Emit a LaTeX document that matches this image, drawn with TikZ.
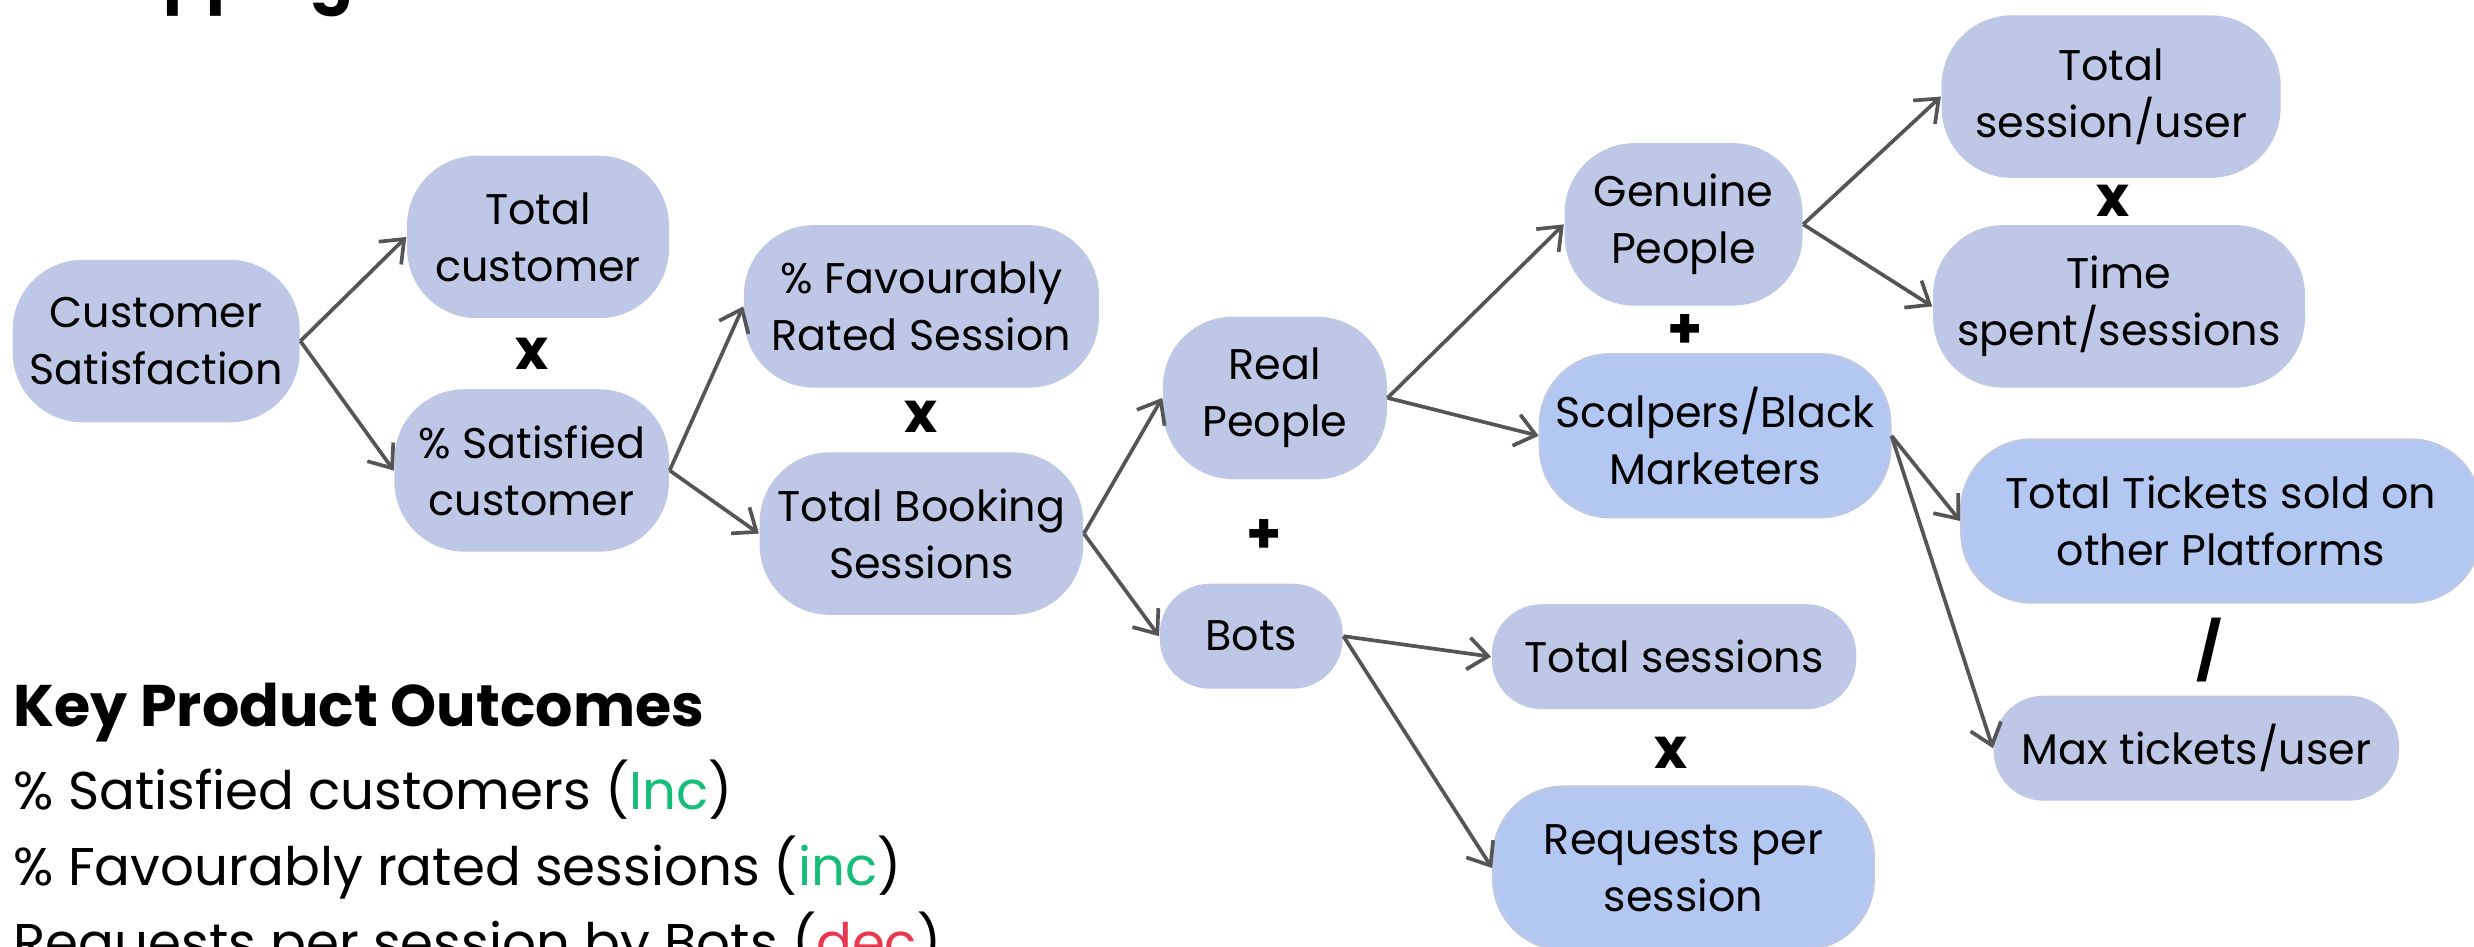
\documentclass[tikz,border=0pt]{standalone}
\usepackage{fontspec}
\setmainfont{Poppins}
\usepackage{xcolor}
\usepackage{tikz}
\usetikzlibrary{arrows.meta}
\definecolor{lila}{RGB}{190,200,230}
\definecolor{blauw}{RGB}{179,199,243}
\definecolor{grijs}{RGB}{85,85,85}
\definecolor{groen}{RGB}{20,190,120}
\definecolor{rood}{RGB}{232,56,80}

\begin{document}
\begin{tikzpicture}[
    font=\fontsize{12.2}{16.2}\selectfont,
    blok/.style={rounded corners=0.7cm, fill=lila, align=center, inner sep=0pt, minimum height=1.625cm},
    blauwblok/.style={blok, fill=blauw, draw=lila, line width=0.8pt},
    laag/.style={blok, rounded corners=0.5cm, minimum height=1.05cm},
    op/.style={font=\fontsize{16}{16}\selectfont\bfseries},
    lijst/.style={anchor=base west, inner sep=0pt, font=\fontsize{15.1}{20}\selectfont},
    pijl/.style={draw=grijs, line width=1.05pt, -{Straight Barb[length=2mm,width=3.2mm]}}]
  \useasboundingbox (0,0) rectangle (24.74,9.47);
  % titel (valt grotendeels buiten beeld)
  \node[anchor=base west, inner sep=0pt, font=\fontsize{18}{18}\selectfont\bfseries] (titel) at (0.62,9.47) {Mapping};
  % eerste niveau
  \node[blok, minimum width=2.87cm] (cs) at (1.562,6.059) {Customer\\Satisfaction};
  \node[blok, minimum width=2.62cm] (tc) at (5.380,7.100) {Total\\customer};
  \node[blok, minimum width=2.745cm] (sc) at (5.317,4.765) {\% Satisfied\\customer};
  \node[op] (x1) at (5.317,5.932) {x};
  % sessies
  \node[blok, minimum width=3.55cm] (frs) at (9.214,6.406) {\% Favourably\\Rated Session};
  \node[blok, minimum width=3.235cm] (tbs) at (9.214,4.134) {Total Booking\\Sessions};
  \node[op] (x2) at (9.214,5.301) {x};
  % mensen en bots
  \node[blok, minimum width=2.24cm] (rp) at (12.749,5.491) {Real\\People};
  \node[laag, minimum width=1.83cm] (bots) at (12.512,3.108) {Bots};
  \node[op] (p1) at (12.638,4.102) {+};
  \node[blok, minimum width=2.38cm] (gp) at (16.835,7.226) {Genuine\\People};
  \node[blauwblok, minimum width=3.50cm] (sbm) at (17.151,5.112) {Scalpers/Black\\Marketers};
  \node[op] (p2) at (16.851,6.153) {+};
  % rechterkolom
  \node[blok, minimum width=3.39cm] (tsu) at (21.111,8.504) {Total\\session/user};
  \node[blok, minimum width=3.72cm] (tss) at (21.190,6.406) {Time\\spent/sessions};
  \node[op] (x3) at (21.127,7.463) {x};
  \node[blauwblok, minimum width=5.19cm] (tts) at (22.21,4.26) {Total Tickets sold on\\other Platforms};
  \node[laag, minimum width=4.055cm] (mtu) at (21.963,1.988) {Max tickets/user};
  \node[op] (sl) at (22.089,2.966) {/};
  \node[laag, minimum width=3.645cm] (ts) at (16.740,2.903) {Total sessions};
  \node[blauwblok, minimum width=3.80cm] (rps) at (16.835,0.789) {Requests per\\session};
  \node[op] (x4) at (16.709,1.941) {x};
  % pijlen
  \draw[pijl] (cs.east) -- (tc.west);
  \draw[pijl] (cs.east) -- (sc.west);
  \draw[pijl] (sc.east) -- (frs.west);
  \draw[pijl] (sc.east) -- (tbs.west);
  \draw[pijl] (tbs.east) -- (rp.west);
  \draw[pijl] (tbs.east) -- (bots.west);
  \draw[pijl] (rp.east) -- (gp.west);
  \draw[pijl] (rp.east) -- (sbm.west);
  \draw[pijl] (gp.east) -- (tsu.west);
  \draw[pijl] (gp.east) -- (tss.west);
  \draw[pijl] (sbm.east) -- (tts.west);
  \draw[pijl] (sbm.east) -- (mtu.west);
  \draw[pijl] (bots.east) -- (ts.west);
  \draw[pijl] (bots.east) -- (rps.west);
  % uitkomsten
  \node[anchor=base west, inner sep=0pt, font=\fontsize{16.7}{19}\selectfont\bfseries] (kop) at (0.13,2.209) {Key Product Outcomes};
  \node[lijst] (uit1) at (0.13,1.373) {\% Satisfied customers (\textcolor{groen}{Inc})};
  \node[lijst] (uit2) at (0.13,0.615) {\% Favourably rated sessions (\textcolor{groen}{inc})};
  \node[lijst] (uit3) at (0.13,-0.142) {Requests per session by Bots (\textcolor{rood}{dec})};
\end{tikzpicture}
\end{document}
